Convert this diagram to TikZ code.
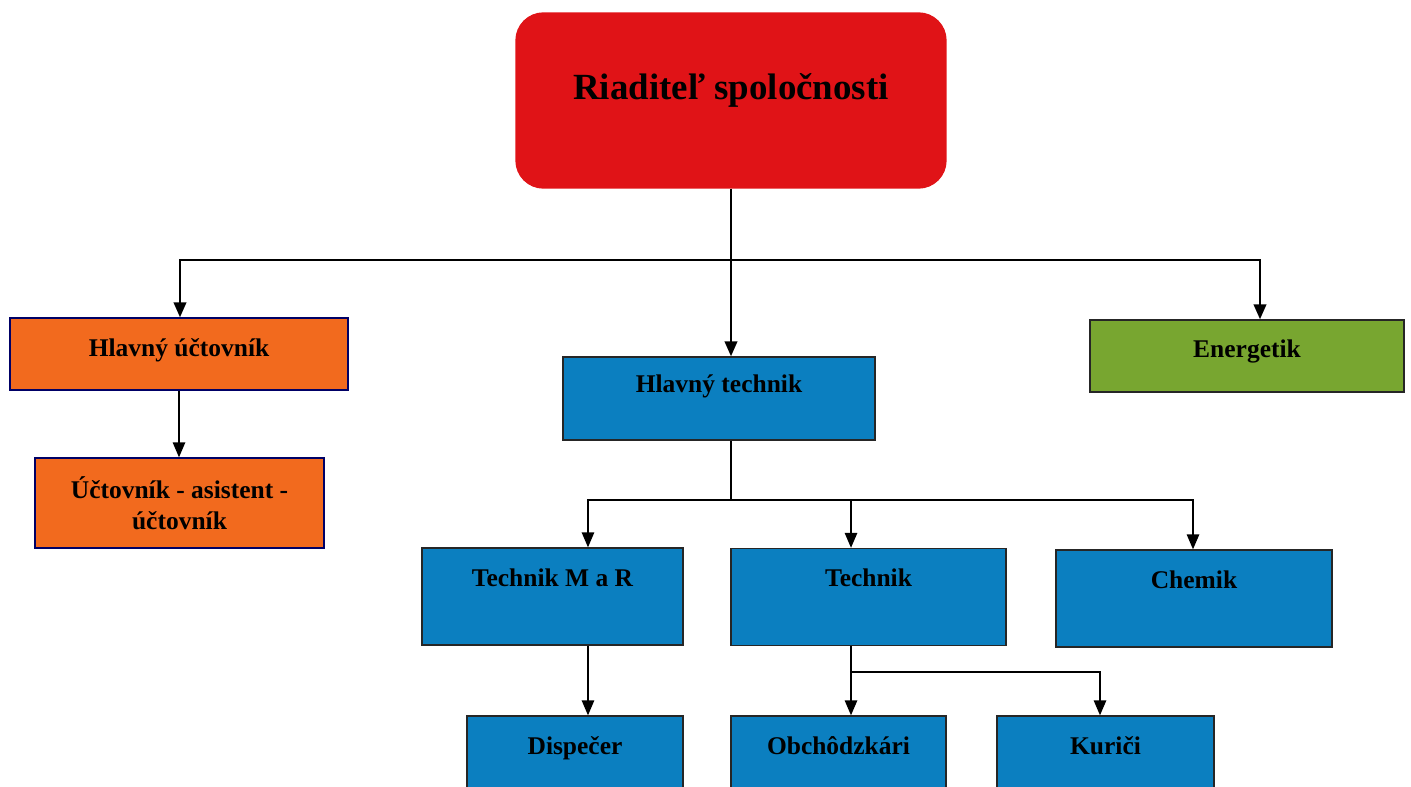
\documentclass[tikz,border=0pt]{standalone}
\usepackage{fontspec}
\setmainfont{Liberation Serif}
\usepackage{tikz}
\usetikzlibrary{arrows.meta}

\definecolor{bossred}{HTML}{E01317}
\definecolor{accorange}{HTML}{F26A1E}
\definecolor{energgreen}{HTML}{78A630}
\definecolor{techblue}{HTML}{0B7FC0}

\begin{document}
\begin{tikzpicture}[
  x=0.02cm, y=-0.02cm,
  box/.style={
    rectangle, draw=black!85, line width=0.8pt,
    inner sep=0pt, align=center,
    font=\fontsize{14.5}{17.5}\selectfont\bfseries
  },
  bossbox/.style={
    box, fill=bossred, draw=bossred, rounded corners=0.55cm,
    minimum width=8.6cm, text height=1.74cm, text depth=1.76cm,
    font=\fontsize{21}{25}\selectfont\bfseries
  },
  accbox/.style={box, fill=accorange, draw=black!60!blue},
  techbox/.style={box, fill=techblue},
  arr/.style={-{Triangle[length=0.3cm, width=0.25cm]}, line width=0.8pt},
  bigarr/.style={arr, line width=1.4pt}
]
  \useasboundingbox (0,0) rectangle (1411,787);

  \node[bossbox] (boss) at (731,100.5) {Riaditeľ spoločnosti};

  \node[accbox, minimum width=6.76cm, text height=0.78cm, text depth=0.66cm]
    (acc) at (179,354) {Hlavný účtovník};
  \node[accbox, minimum width=5.78cm, minimum height=1.8cm]
    (accasst) at (179.5,503) {Účtovník - asistent -\\účtovník};
  \node[box, fill=energgreen, minimum width=6.28cm, text height=0.76cm, text depth=0.68cm]
    (energ) at (1247,356) {Energetik};
  \node[techbox, minimum width=6.24cm, text height=0.7cm, text depth=0.96cm]
    (tech) at (719,398.5) {Hlavný technik};

  \foreach \x/\y/\w/\name/\txt in {552.5/596.5/5.22/techmr/Technik M a R,
                                  868.5/597/5.5/techn/Technik,
                                  1194/598.5/5.52/chem/Chemik,
                                  575/764.5/4.32/disp/Dispečer,
                                  838.5/764.5/4.3/obch/Obchôdzkári,
                                  1105.5/764.5/4.34/kur/Kuriči} {
    \node[techbox, minimum width=\w cm, text height=0.76cm, text depth=1.18cm]
      (\name) at (\x,\y) {\txt};
  }

  \coordinate (busA) at (731,260);
  \draw[line width=1.4pt] (boss.south) -- (busA);
  \draw[bigarr] (busA) -| ([xshift=0.02cm]acc.north);
  \draw[bigarr] (busA) -| ([xshift=0.26cm]energ.north);
  \draw[bigarr] (busA) -- (busA |- tech.north);

  \draw[arr] (acc.south) -- (acc.south |- accasst.north);

  \coordinate (busB) at (731,500);
  \draw[line width=0.8pt] (busB |- tech.south) -- (busB);
  \draw[arr] (busB) -| ([xshift=0.71cm]techmr.north);
  \draw[arr] (busB) -| ([xshift=-0.35cm]techn.north);
  \draw[arr] (busB) -| ([xshift=-0.02cm]chem.north);

  \coordinate (mrsrc) at ([xshift=0.71cm]techmr.south);
  \draw[arr] (mrsrc) -- (mrsrc |- disp.north);

  \coordinate (tsrc) at ([xshift=-0.35cm]techn.south);
  \coordinate (busC) at (851,672);
  \draw[arr] (tsrc) -- (tsrc |- obch.north);
  \draw[arr] (busC) -| ([xshift=-0.11cm]kur.north);
\end{tikzpicture}
\end{document}
